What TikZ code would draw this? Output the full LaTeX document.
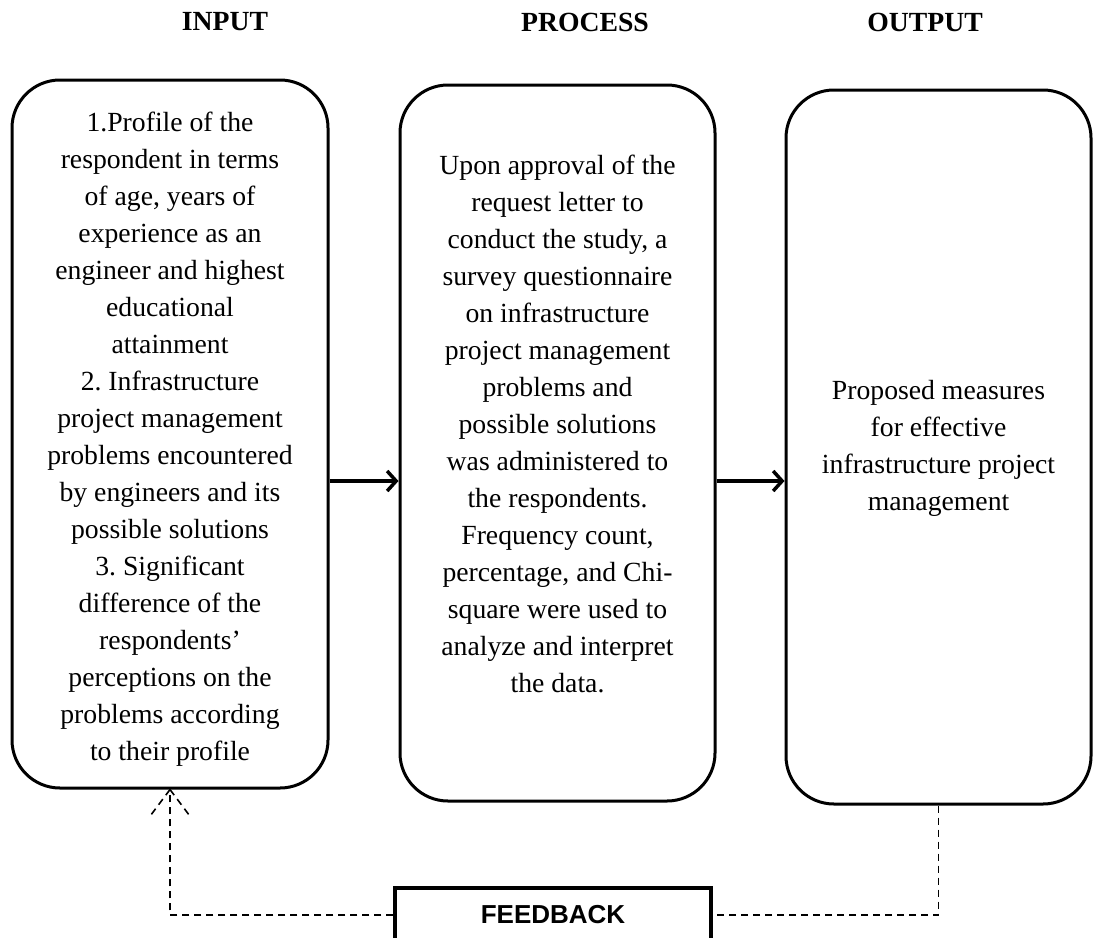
\documentclass[tikz,border=0pt]{standalone}
\usepackage{fontspec}
\setmainfont{Liberation Serif}
\newfontfamily\arialfont{Liberation Sans}
\usetikzlibrary{arrows.meta,calc}
\frenchspacing
\begin{document}
\frenchspacing
\begin{tikzpicture}[x=1pt,y=-1pt,
  box/.style={draw, line width=3pt, rounded corners=48pt, inner sep=0pt},
  body/.style={align=center, font=\fontsize{27.7}{37}\selectfont\frenchspacing, inner sep=0pt},
  head/.style={font=\fontsize{27.7}{33}\selectfont\bfseries, inner sep=0pt},
  arr/.style={line width=3.5pt, -{Straight Barb[length=9pt,width=20pt]}},
  fbline/.style={line width=1.6pt, dash pattern=on 7pt off 5pt},
  fbbox/.style={draw, line width=3.5pt, inner sep=0pt, font=\arialfont\bfseries\fontsize{26}{30}\selectfont}
]
\useasboundingbox (0,0) rectangle (1094,937);

% headings
\node[head] (hin) at (225,22) {INPUT};
\node[head] (hpr) at (585,22) {PROCESS};
\node[head] (hout) at (925,22) {OUTPUT};

% boxes
\node[box, minimum width=316pt, minimum height=708pt] (box1) at (170,434) {};
\node[box, minimum width=315pt, minimum height=716pt] (box2) at (557.5,443) {};
\node[box, minimum width=305pt, minimum height=714pt] (box3) at (938.5,447) {};

% texts
\node[body] (t1) at (170,439) {1.Profile of the\\respondent in terms\\of age, years of\\experience as an\\engineer and highest\\educational\\attainment\\2. Infrastructure\\project management\\problems encountered\\by engineers and its\\possible solutions\\3. Significant\\difference of the\\respondents’\\perceptions on the\\problems according\\to their profile};
\node[body] (t2) at (557.5,424) {Upon approval of the\\request letter to\\conduct the study, a\\survey questionnaire\\on infrastructure\\project management\\problems and\\possible solutions\\was administered to\\the respondents.\\Frequency count,\\percentage, and Chi-\\square were used to\\analyze and interpret\\the data.};
\node[body] (t3) at (938.5,448) {Proposed measures\\for effective\\infrastructure project\\management};

% feedback box
\node[fbbox, minimum width=316pt, minimum height=54pt] (fb) at (553,915) {FEEDBACK};

% arrows
\coordinate (ay) at (0,481);
\draw[arr] (box1.east |- ay) -- (box2.west |- ay);
\draw[arr] (box2.east |- ay) -- (box3.west |- ay);

% feedback loop
\draw[fbline] (box3.south) |- (fb.east);
\draw[fbline] (fb.west) -| (box1.south);
\draw[fbline] (box1.south) -- ++(-21,28);
\draw[fbline] (box1.south) -- ++(21,28);
\end{tikzpicture}
\end{document}
